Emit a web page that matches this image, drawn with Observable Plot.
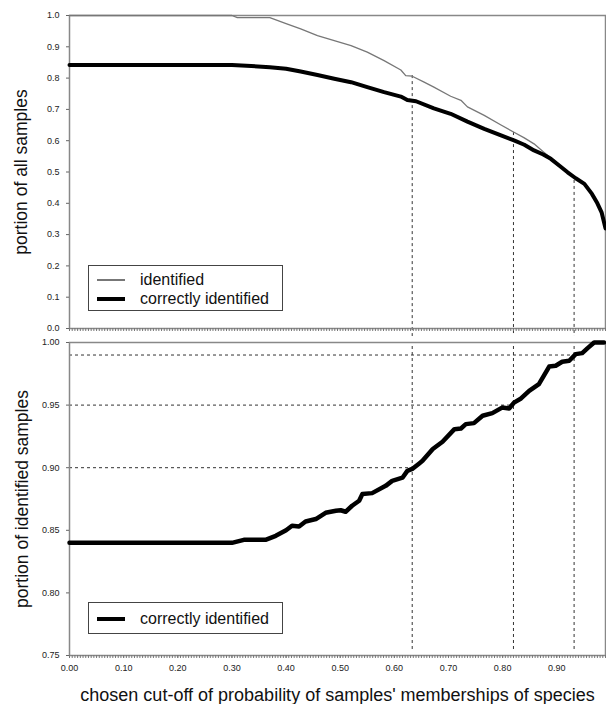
<!DOCTYPE html>
<html>
<head>
<meta charset="utf-8">
<script src="https://cdn.jsdelivr.net/npm/d3@7"></script>
<script src="https://cdn.jsdelivr.net/npm/@observablehq/plot@0.6"></script>
<style>
  html, body { margin: 0; padding: 0; background: white; }
  #wrap { position: relative; width: 606px; height: 704px; font-family: "Liberation Sans", Arial, sans-serif; }
  #wrap svg { display: block; }
  .legend { position: absolute; border: 1.5px solid #444; background: white; box-sizing: border-box; }
  .row { position: absolute; left: 0; height: 20px; width: 100%; }
  .sw { position: absolute; left: 8px; width: 28px; top: 50%; }
  .lab { position: absolute; left: 51px; top: 50%; transform: translateY(-50%); font-size: 16px; color: #111; white-space: nowrap; }
</style>
</head>
<body>
<div id="wrap"></div>
<script>
// ---- data ----
// top panel: portion of all samples that are identified (thin gray line)
const idCut = [0, 0.30, 0.31, 0.37, 0.40, 0.427, 0.458, 0.489, 0.52, 0.55, 0.581, 0.612, 0.621, 0.633, 0.655, 0.673, 0.704, 0.723, 0.735, 0.766, 0.797, 0.821, 0.84, 0.858, 0.875, 0.889, 0.905, 0.92, 0.935, 0.951, 0.965, 0.975, 0.983, 0.99];
const idVal = [1.0, 1.0, 0.993, 0.993, 0.974, 0.957, 0.936, 0.92, 0.904, 0.883, 0.856, 0.826, 0.808, 0.806, 0.787, 0.771, 0.742, 0.729, 0.708, 0.681, 0.65, 0.627, 0.609, 0.59, 0.565, 0.545, 0.521, 0.5, 0.48, 0.462, 0.43, 0.40, 0.37, 0.32];
// top panel: portion of all samples correctly identified (thick black line)
const corCut = [0, 0.30, 0.37, 0.40, 0.427, 0.458, 0.489, 0.52, 0.55, 0.581, 0.612, 0.624, 0.64, 0.673, 0.704, 0.735, 0.766, 0.797, 0.821, 0.84, 0.858, 0.875, 0.889, 0.905, 0.92, 0.935, 0.951, 0.965, 0.975, 0.983, 0.99];
const corVal = [0.842, 0.842, 0.835, 0.83, 0.821, 0.81, 0.798, 0.787, 0.771, 0.755, 0.741, 0.73, 0.726, 0.703, 0.686, 0.661, 0.638, 0.617, 0.601, 0.587, 0.569, 0.556, 0.542, 0.52, 0.499, 0.48, 0.462, 0.43, 0.40, 0.37, 0.32];
// bottom panel: portion of identified samples that are correct
const ratCut = [0, 0.30, 0.322, 0.362, 0.381, 0.40, 0.411, 0.424, 0.436, 0.455, 0.473, 0.492, 0.501, 0.51, 0.522, 0.535, 0.541, 0.559, 0.584, 0.596, 0.615, 0.624, 0.633, 0.646, 0.652, 0.671, 0.689, 0.711, 0.723, 0.732, 0.747, 0.763, 0.781, 0.799, 0.812, 0.821, 0.834, 0.849, 0.867, 0.886, 0.898, 0.91, 0.923, 0.935, 0.947, 0.957, 0.969, 0.987];
const ratVal = [0.84, 0.84, 0.8424, 0.8424, 0.8456, 0.85, 0.8536, 0.853, 0.857, 0.859, 0.864, 0.8656, 0.866, 0.8648, 0.8696, 0.8736, 0.879, 0.8797, 0.8855, 0.8895, 0.892, 0.8975, 0.899, 0.9034, 0.9055, 0.9149, 0.9207, 0.9308, 0.9313, 0.9348, 0.9356, 0.9415, 0.9436, 0.948, 0.9473, 0.952, 0.9553, 0.9614, 0.9668, 0.9808, 0.9814, 0.9846, 0.9854, 0.9907, 0.9915, 0.9955, 1.0, 1.0];
// reference levels (dashed lines)
const levels = [0.90, 0.95, 0.99];
const levelCut = [0.633, 0.82, 0.932];
const levelIdentified = [0.808, 0.626, 0.473];
// ticks
const xMajor = [0, 0.1, 0.2, 0.3, 0.4, 0.5, 0.6, 0.7, 0.8, 0.9];
const xMinor = d3.range(0, 199).map(i => i * 0.005);
const yTopTicks = [0, 0.1, 0.2, 0.3, 0.4, 0.5, 0.6, 0.7, 0.8, 0.9, 1.0];
const yBotTicks = [0.75, 0.80, 0.85, 0.90, 0.95, 1.00];
const xDomain = [0, 0.99];

const idData = idCut.map((x, i) => ({x, y: idVal[i]}));
const corData = corCut.map((x, i) => ({x, y: corVal[i]}));
const ratData = ratCut.map((x, i) => ({x, y: ratVal[i]}));
const refData = levels.map((l, i) => ({level: l, cut: levelCut[i], top: levelIdentified[i]}));

const font = '"Liberation Sans", Arial, sans-serif';
const dash = {stroke: "#333", strokeWidth: 1, strokeDasharray: "3,3"};

const topPlot = Plot.plot({
  width: 606, height: 336,
  marginLeft: 69, marginRight: 1, marginTop: 15, marginBottom: 8,
  style: {fontFamily: font, fontSize: "9px", color: "#222", background: "white", overflow: "visible"},
  x: {domain: xDomain},
  y: {domain: [0, 1]},
  marks: [
    Plot.ruleX(refData, {x: "cut", y1: "top", y2: () => 0, insetBottom: -8, ...dash}),
    Plot.frame({stroke: "#888", strokeWidth: 1.5}),
    Plot.line(idData, {x: "x", y: "y", stroke: "#777", strokeWidth: 1.3}),
    Plot.line(corData, {x: "x", y: "y", stroke: "#000", strokeWidth: 4, strokeLinejoin: "round"}),
    Plot.axisY({ticks: yTopTicks, tickSize: 3, tickPadding: 7, tickFormat: d3.format(".1f"), label: null, stroke: "#666"}),
    Plot.axisX({ticks: xMinor, tickSize: 3, tickFormat: () => "", label: null, stroke: "#777"}),
    Plot.text(["portion of all samples"], {text: d => d, frameAnchor: "left", dx: -48, rotate: -90, textAnchor: "middle", lineAnchor: "middle", fontSize: 17.5, fill: "#111"})
  ]
});

const bottomPlot = Plot.plot({
  width: 606, height: 368,
  marginLeft: 69, marginRight: 1, marginTop: 6, marginBottom: 49,
  style: {fontFamily: font, fontSize: "9px", color: "#222", background: "white", overflow: "visible"},
  x: {domain: xDomain},
  y: {domain: [0.75, 1.0]},
  marks: [
    Plot.ruleY(refData, {y: "level", x1: () => 0, x2: "cut", ...dash}),
    Plot.ruleX(refData, {x: "cut", y1: () => 0.75, y2: () => 1.0, insetTop: -6, ...dash}),
    Plot.frame({stroke: "#888", strokeWidth: 1.5}),
    Plot.line(ratData, {x: "x", y: "y", stroke: "#000", strokeWidth: 4.5, strokeLinejoin: "round"}),
    Plot.axisY({ticks: yBotTicks, tickSize: 3, tickPadding: 7, tickFormat: d3.format(".2f"), label: null, stroke: "#666"}),
    Plot.axisX({ticks: xMinor, tickSize: 3, tickFormat: () => "", label: null, stroke: "#777"}),
    Plot.axisX({ticks: xMajor, tickSize: 3, tickPadding: 6, tickFormat: d3.format(".2f"), label: null, stroke: "#777"}),
    Plot.text(["portion of identified samples"], {text: d => d, frameAnchor: "left", dx: -47, rotate: -90, textAnchor: "middle", lineAnchor: "middle", fontSize: 17.5, fill: "#111"}),
    Plot.text(["chosen cut-off of probability of samples' memberships of species"], {text: d => d, frameAnchor: "bottom", dy: 40, textAnchor: "middle", lineAnchor: "middle", fontSize: 18, fill: "#111"})
  ]
});

const wrap = document.getElementById("wrap");
wrap.appendChild(topPlot);
wrap.appendChild(bottomPlot);

function legend(left, topPx, w, h, items) {
  const box = document.createElement("div");
  box.className = "legend";
  Object.assign(box.style, {left: left + "px", top: topPx + "px", width: w + "px", height: h + "px"});
  items.forEach(it => {
    const row = document.createElement("div");
    row.className = "row";
    row.style.top = (it.cy - topPx - 10) + "px";
    const sw = document.createElement("div");
    sw.className = "sw";
    Object.assign(sw.style, {height: it.w + "px", background: it.color, marginTop: (-it.w / 2) + "px"});
    const lab = document.createElement("div");
    lab.className = "lab";
    lab.textContent = it.label;
    row.appendChild(sw); row.appendChild(lab);
    box.appendChild(row);
  });
  wrap.appendChild(box);
}
legend(88, 265, 195, 46, [
  {label: "identified", color: "#777", w: 1.3, cy: 279},
  {label: "correctly identified", color: "#000", w: 4, cy: 298}
]);
legend(88, 602, 195, 32, [
  {label: "correctly identified", color: "#000", w: 4, cy: 618}
]);
</script>
</body>
</html>
